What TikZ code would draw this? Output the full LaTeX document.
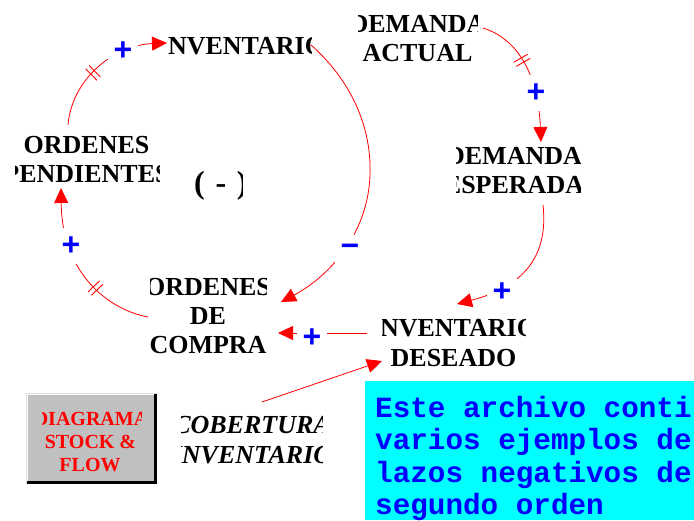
\documentclass[tikz,border=0pt]{standalone}
\usepackage{fontspec}
\setmainfont{Liberation Serif}
\setmonofont{Liberation Mono}
\newfontfamily\signfont{Liberation Sans}
\usetikzlibrary{arrows.meta,calc,decorations.markings}
\definecolor{btngray}{RGB}{192,192,192}
\definecolor{linkred}{RGB}{255,0,0}
\definecolor{signblue}{RGB}{0,0,255}
\definecolor{infocyan}{RGB}{0,255,255}
\begin{document}
\begin{tikzpicture}[x=1pt,y=-1pt,
  clipbox/.style={rectangle,inner sep=0pt,outer sep=0pt},
  lbl/.style={inner sep=0pt,anchor=base,font=\bfseries\fontsize{26}{29}\selectfont},
  coblbl/.style={inner sep=0pt,anchor=base,font=\bfseries\itshape\fontsize{26}{29}\selectfont},
  btnlbl/.style={inner sep=0pt,anchor=base,text=linkred,font=\bfseries\fontsize{20}{23}\selectfont},
  infolbl/.style={inner sep=0pt,anchor=base west,text=signblue,font=\ttfamily\bfseries\fontsize{29.3}{32.5}\selectfont},
  conn/.style={draw=linkred,line width=0.8pt,-{Triangle[length=15pt,width=14pt]}},
  polsign/.style={fill=white,inner xsep=6pt,inner ysep=9pt,text=signblue,font=\signfont\bfseries\fontsize{32}{32}\selectfont},
  delay/.style={postaction=decorate,decoration={markings,mark=at position #1 with {\draw[linkred,line width=0.9pt,arrows=-] (-2.4pt,-8pt) -- (-2.4pt,8pt) (2.4pt,-8pt) -- (2.4pt,8pt);}}}
]
\fill[white] (0,0) rectangle (694,520);
\useasboundingbox (0,0) rectangle (694,520);

% ---- variable boxes (clipping regions) and labels ----
\node[clipbox,minimum width=144pt,minimum height=32pt] (inv) at (239,46) {};
\begin{scope}
\clip (inv.south west) rectangle (inv.north east);
\node[lbl] (invt) at (241.5,54) {INVENTARIO};
\end{scope}

\node[clipbox,minimum width=119pt,minimum height=60pt] (dact) at (417.5,38) {};
\begin{scope}
\clip (dact.south west) rectangle (dact.north east);
\node[lbl] (dact1) at (417.5,32) {DEMANDA};
\node[lbl] (dact2) at (417.5,61) {ACTUAL};
\end{scope}

\node[clipbox,minimum width=124pt,minimum height=62pt] (desp) at (518,169) {};
\begin{scope}
\clip (desp.south west) rectangle (desp.north east);
\node[lbl] (desp1) at (514,164) {DEMANDA};
\node[lbl] (desp2) at (514,193) {ESPERADA};
\end{scope}

\node[clipbox,minimum width=143pt,minimum height=60pt] (ides) at (453.5,342) {};
\begin{scope}
\clip (ides.south west) rectangle (ides.north east);
\node[lbl] (ides1) at (453.5,336) {INVENTARIO};
\node[lbl] (ides2) at (453.5,366) {DESEADO};
\end{scope}

\node[clipbox,minimum width=116pt,minimum height=88pt] (ocomp) at (208,315) {};
\begin{scope}
\clip (ocomp.south west) rectangle (ocomp.north east);
\node[lbl] (ocomp1) at (208,295) {ORDENES};
\node[lbl] (ocomp2) at (208,324) {DE};
\node[lbl] (ocomp3) at (208,353) {COMPRA};
\end{scope}

\node[clipbox,minimum width=144pt,minimum height=59pt] (opend) at (87,158.5) {};
\begin{scope}
\clip (opend.south west) rectangle (opend.north east);
\node[lbl] (opend1) at (86.5,153) {ORDENES};
\node[lbl] (opend2) at (86.5,182) {PENDIENTES};
\end{scope}

\node[clipbox,minimum width=48pt,minimum height=40pt] (loop) at (218,185) {};
\begin{scope}
\clip (loop.south west) rectangle (loop.north east);
\node[inner sep=0pt,anchor=base west,font=\bfseries\fontsize{32}{32}\selectfont] (loopt) at (194,193) {(\,\,-\,\,)};
\end{scope}

\node[clipbox,minimum width=141pt,minimum height=60pt] (cob) at (251.5,440) {};
\begin{scope}
\clip (cob.south west) rectangle (cob.north east);
\node[coblbl] (cob1) at (252,433) {COBERTURA};
\node[coblbl] (cob2) at (252,463) {INVENTARIO};
\end{scope}

% ---- button ----
\node[rectangle,inner sep=0pt,minimum width=131pt,minimum height=91pt,fill=black] (btn) at (91.5,438.5) {};
\fill[white] (btn.north west) rectangle ($(btn.south east)+(-3,-3)$);
\fill[btngray] ($(btn.north west)+(2,2)$) rectangle ($(btn.south east)+(-3,-3)$);
\draw[gray!25,line width=0.6pt] (btn.south west) -- (btn.north west) -- (btn.north east);
\begin{scope}
\clip (42,396) rectangle (141,480);
\node[btnlbl] (btn1) at (91,425) {DIAGRAMA};
\node[btnlbl] (btn2) at (90.5,448) {STOCK \&};
\node[btnlbl] (btn3) at (90,471) {FLOW};
\end{scope}

% ---- info box ----
\node[rectangle,inner sep=0pt,minimum width=329pt,minimum height=139pt,fill=infocyan] (info) at (529.5,450.5) {};
\node[infolbl] (info1) at (375,417) {Este archivo conti};
\node[infolbl] (info2) at (375,449.5) {varios ejemplos de};
\node[infolbl] (info3) at (375,482) {lazos negativos de};
\node[infolbl] (info4) at (375,514.5) {segundo orden};

% ---- connectors ----
\draw[conn,delay=0.42] ($(opend.north)+(-19,-4)$) .. controls (72,78) and (115,45) .. ($(inv.west)+(0,-3)$);
\draw[conn] ($(inv.east)+(0,-1)$) .. controls (345,75) and (372,120) .. (370,175) .. controls (368,235) and (328,277) .. ($(ocomp.east)+(15,-13)$);
\draw[conn,delay=0.38] ($(dact.east)+(6,-10)$) .. controls (515,38) and (538,70) .. ($(desp.north)+(23,4)$);
\draw[conn] ($(desp.south)+(25,5)$) .. controls (548,250) and (530,285) .. ($(ides.north)+(3.5,-8)$);
\draw[conn] ($(ides.west)+(-15,-9)$) -- ($(ocomp.east)+(12,18)$);
\draw[conn,delay=0.36] ($(ocomp.west)+(-2,2)$) .. controls (110,310) and (62,275) .. ($(opend.south)+(-26,0)$);
\draw[conn] ($(cob.north)+(10.5,-8)$) -- ($(ides.south west)+(0,-11)$);

% ---- polarity signs ----
\node[polsign] (s1) at (123,51) {+};
\node[polsign] (s2) at (350,250) {−};
\node[polsign] (s3) at (536,93) {+};
\node[polsign] (s4) at (502,292) {+};
\node[polsign] (s5) at (312,338) {+};
\node[polsign] (s6) at (71,246) {+};
\end{tikzpicture}
\end{document}
